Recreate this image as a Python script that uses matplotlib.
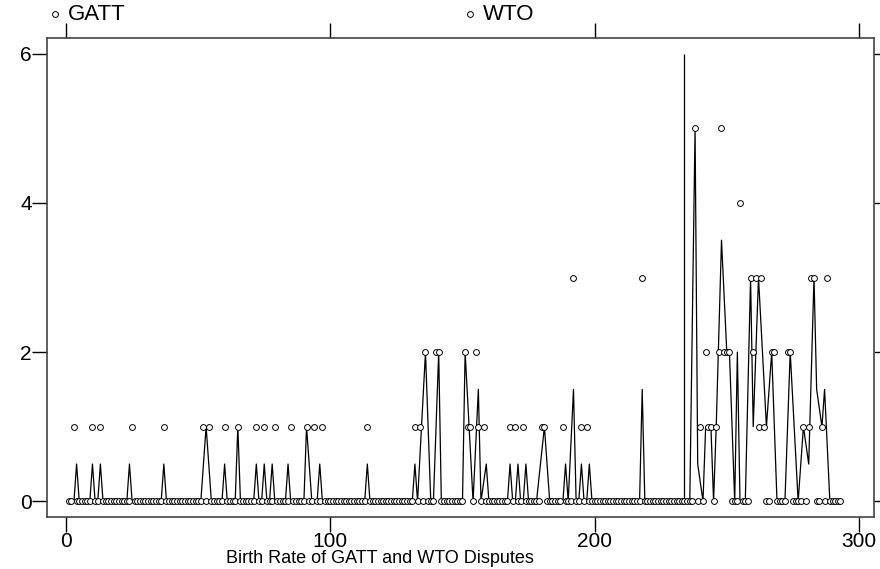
import numpy as np
import matplotlib
matplotlib.use("Agg")
import matplotlib.pyplot as plt

plt.rcParams['font.family'] = ['Liberation Sans', 'DejaVu Sans']

#observation index (months)
months = np.arange(1, 294)
GATT_END = 235

#non-zero dispute counts, every other month is 0
gatt_counts = {
    3: 1, 10: 1, 13: 1, 25: 1, 37: 1, 52: 1, 54: 1, 60: 1, 65: 1,
    72: 1, 75: 1, 79: 1, 85: 1, 91: 1, 94: 1, 97: 1, 114: 1,
    132: 1, 134: 1, 136: 2, 140: 2, 141: 2, 151: 2, 152: 1, 153: 1,
    155: 2, 156: 1, 158: 1, 168: 1, 170: 1, 173: 1, 180: 1, 181: 1,
    188: 1, 192: 3, 195: 1, 197: 1, 218: 3,
}
wto_counts = {
    238: 5, 240: 1, 242: 2, 243: 1, 244: 1, 246: 1, 247: 2, 248: 5,
    249: 2, 250: 2, 251: 2, 255: 4, 259: 3, 260: 2, 261: 3, 262: 1,
    263: 3, 264: 1, 267: 2, 268: 2, 273: 2, 274: 2, 279: 1, 281: 1,
    282: 3, 283: 3, 286: 1, 288: 3,
}

#birth rate line (vertices)
rate_x = [1, 3, 4, 5, 9, 10, 11, 12, 13, 14, 23, 24, 25, 36, 37, 38,
          51, 53, 55, 59, 60, 61, 64, 65, 66, 71, 72, 73, 74, 75, 76,
          77, 78, 79, 83, 84, 85, 90, 91, 93, 95, 96, 97,
          113, 114, 115, 131, 132, 133, 136, 138, 139, 141, 142,
          150, 151, 154, 156, 157, 159, 160, 167, 168, 169, 170, 171,
          172, 173, 174, 175, 178, 181, 183, 188, 189, 190, 192, 193,
          194, 195, 196, 197, 198, 199, 217, 218, 219,
          236, 238, 239, 241, 242, 244, 245, 246, 248, 250, 251, 253,
          254, 255, 257, 259, 260, 262, 265, 267, 269, 272, 274, 277,
          279, 281, 283, 284, 286, 287, 289, 293]
rate_y = [0, 0, 0.5, 0, 0, 0.5, 0, 0, 0.5, 0, 0, 0.5, 0, 0, 0.5, 0,
          0, 1, 0, 0, 0.5, 0, 0, 1, 0, 0, 0.5, 0, 0, 0.5, 0,
          0, 0.5, 0, 0, 0.5, 0, 0, 1, 0, 0, 0.5, 0,
          0, 0.5, 0, 0, 0.5, 0, 2, 0, 0, 2, 0,
          0, 2, 0, 1.5, 0, 0.5, 0, 0, 0.5, 0, 0, 0.5,
          0, 0, 0.5, 0, 0, 1, 0, 0, 0.5, 0, 1.5, 0,
          0, 0.5, 0, 0, 0.5, 0, 0, 1.5, 0,
          0, 5, 0.5, 0, 1, 1, 0, 1, 3.5, 2, 2, 0,
          2, 0, 0, 3, 1, 3, 1, 2, 0, 0, 2, 0,
          1, 0.5, 3, 1.5, 1, 1.5, 0, 0]

#single-month spike
spike_x = [234]
spike_y = [6]

x_ticks = [0, 100, 200, 300]
y_ticks = [0, 2, 4, 6]


def counts_to_series(counts, start, end):
    x = months[(months >= start) & (months <= end)]
    y = np.array([counts.get(m, 0) for m in x], dtype=float)
    return x, y


fig = plt.figure(figsize=(8.8, 5.69), dpi=100)
ax = fig.add_axes([47 / 880, 52 / 569, 827 / 880, 479 / 569])

gx, gy = counts_to_series(gatt_counts, 1, GATT_END)
wx, wy = counts_to_series(wto_counts, GATT_END + 1, months.max())

ax.plot(rate_x, rate_y, color="black", linewidth=0.9)
ax.vlines(spike_x, 0, spike_y, color="black", linewidth=0.9)

marker_style = dict(linestyle="none", marker="o", markersize=4.2,
                    markerfacecolor="white", markeredgecolor="black",
                    markeredgewidth=0.7)
ax.plot(gx, gy, **marker_style)
ax.plot(wx, wy, **marker_style)

ax.set_xlim(-7.2, 305.7)
ax.set_ylim(-0.21, 6.21)
ax.set_xticks(x_ticks)
ax.set_yticks(y_ticks)
ax.tick_params(direction="out", length=11, width=1, top=True, right=True,
               labeltop=False, labelright=False, labelsize=15, colors="black",
               pad=0)
for s in ax.spines.values():
    s.set_linewidth(1.2)
    s.set_color("#444444")

#axis title sits below the tick labels, left of centre as in the original
fig.text(380 / 880, 6 / 569, "Birth Rate of GATT and WTO Disputes",
         fontsize=13, ha="center", va="baseline")

#legend above the frame
for xpos, label in [(0.0097, "GATT"), (0.511, "WTO")]:
    ax.plot([xpos], [1.05], transform=ax.transAxes, clip_on=False, **marker_style)
    ax.text(xpos + 0.016, 1.05, label, transform=ax.transAxes,
            fontsize=16, va="center", ha="left")

fig.savefig("out.png", dpi=100)
